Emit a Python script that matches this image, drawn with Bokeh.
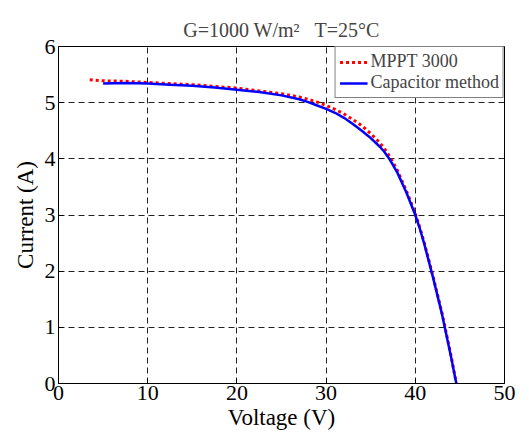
from bokeh.plotting import figure
from bokeh.models import Range1d, FixedTicker, Legend, LegendItem
from bokeh.embed import file_html
from bokeh.resources import INLINE

# Data
v_mppt = [3.5, 5, 7.5, 10, 12.5, 15, 17.5, 20, 22.5, 25, 27, 28, 29, 30, 31, 32, 33, 34,
          35, 36, 36.5, 37, 37.5, 38, 39, 39.5, 40, 40.5, 41, 42, 43, 44, 44.6]
i_mppt = [5.41, 5.39, 5.38, 5.36, 5.34, 5.32, 5.29, 5.26, 5.21, 5.16, 5.10, 5.06, 5.01, 4.95,
          4.88, 4.80, 4.70, 4.59, 4.45, 4.29, 4.19, 4.07, 3.94, 3.79, 3.43, 3.23, 3.02,
          2.78, 2.51, 1.90, 1.25, 0.50, 0.0]

v_cap = [5.0, 7.5, 10, 12.5, 15, 17.5, 20, 22.5, 25, 27, 28, 29, 30, 31, 32, 33, 34, 35, 36,
         36.5, 37, 37.5, 38, 39, 39.5, 40, 40.5, 41, 42, 43, 44, 44.6]
i_cap = [5.34, 5.35, 5.34, 5.32, 5.30, 5.27, 5.23, 5.19, 5.13, 5.06, 5.01, 4.95, 4.89, 4.82,
         4.73, 4.62, 4.50, 4.37, 4.22, 4.13, 4.02, 3.89, 3.75, 3.40, 3.20, 3.00,
         2.76, 2.49, 1.88, 1.23, 0.48, 0.0]

x_ticks = [0, 10, 20, 30, 40, 50]
y_ticks = [0, 1, 2, 3, 4, 5, 6]

FONT = "Liberation Serif"

p = figure(width=529, height=439, output_backend="svg", toolbar_location=None,
           x_range=Range1d(0, 50), y_range=Range1d(0, 6),
           min_border_left=58, min_border_right=25, min_border_top=46, min_border_bottom=56)

p.title.text = "G=1000 W/m\u00b2\u00a0\u00a0\u00a0T=25\u00b0C"
p.title.align = "center"
p.title.text_font = FONT
p.title.text_font_size = "20px"
p.title.text_font_style = "normal"
p.title.standoff = 12

p.outline_line_color = "black"
p.outline_line_width = 1
p.background_fill_color = "white"
p.border_fill_color = "white"

for ax in (p.xaxis[0], p.yaxis[0]):
    ax.axis_line_color = "black"
    ax.major_tick_line_color = "black"
    ax.major_tick_in = 5
    ax.major_tick_out = 0
    ax.minor_tick_line_color = None
    ax.major_label_text_font = FONT
    ax.major_label_text_font_size = "22px"
    ax.major_label_text_color = "black"
    ax.axis_label_text_font = FONT
    ax.axis_label_text_font_size = "23px"
    ax.axis_label_text_font_style = "normal"
    ax.axis_label_text_color = "black"

p.xaxis.ticker = FixedTicker(ticks=x_ticks)
p.yaxis.ticker = FixedTicker(ticks=y_ticks)
p.xaxis.axis_label = "Voltage (V)"
p.yaxis.axis_label = "Current (A)"
p.xaxis.major_label_standoff = 2
p.yaxis.major_label_standoff = 3
p.xaxis.axis_label_standoff = 2
p.yaxis.axis_label_standoff = 4

p.grid.grid_line_color = "#222222"
p.grid.grid_line_dash = "6 4"
p.grid.grid_line_width = 1

r_mppt = p.line(v_mppt, i_mppt, line_color="red", line_width=3, line_dash="3 3")
r_cap = p.line(v_cap, i_cap, line_color="blue", line_width=2.5)

legend = Legend(items=[LegendItem(label="MPPT 3000", renderers=[r_mppt]),
                       LegendItem(label="Capacitor method", renderers=[r_cap])],
                location="top_right", margin=0, padding=4, spacing=0,
                label_text_font=FONT, label_text_font_size="18px",
                label_height=20, glyph_width=28, glyph_height=20, label_standoff=3,
                border_line_color="black", border_line_width=1,
                background_fill_color="white", background_fill_alpha=1)
p.add_layout(legend)

open("out.html", "w").write(file_html(p, INLINE))
